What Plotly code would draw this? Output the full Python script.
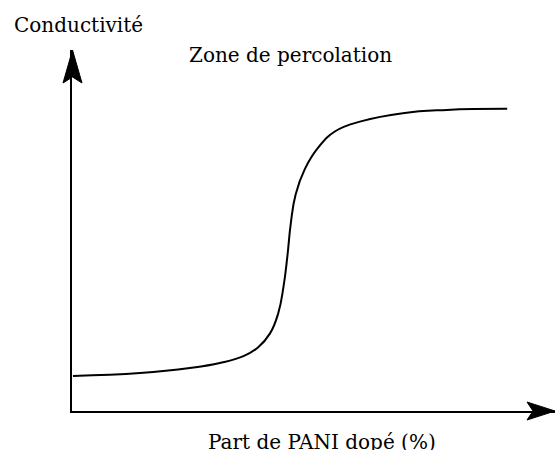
import plotly.graph_objects as go

# Data (arbitrary units: x = % PANI dopé, 0-100 ; y = conductivité, 0-100)
part_pani = [0.2, 14.1, 24.4, 30.6, 35.5, 38.5, 41.0, 42.7, 43.8, 44.6, 45.3,
             46.3, 48.2, 51.0, 54.5, 60.0, 68.5, 77.6, 90.1]
conductivite = [9.7, 10.5, 11.9, 13.3, 15.2, 17.6, 21.5, 27.1, 34.5, 43.0, 52.0,
                60.0, 67.0, 73.0, 77.5, 80.3, 82.5, 83.4, 83.7]

x_label = "Part de PANI dopé (%)"
y_label = "Conductivité"
zone_label = "Zone de percolation"

W, H = 555, 450
L, T, R, B = 72, 50, 555, 411


def px(x):
    return (x - L) / (R - L)


def py(y):
    return (B - y) / (B - T)


FONT = "DejaVu Serif"
FS = 20

fig = go.Figure()
fig.add_trace(go.Scatter(
    x=part_pani, y=conductivite, mode="lines",
    line=dict(color="black", width=2, shape="spline", smoothing=1.3),
    hoverinfo="skip", showlegend=False,
))

shapes = [
    # y-axis arrowhead
    dict(type="path", xref="paper", yref="paper",
         path=f"M{px(72.5)},{py(50)} L{px(82)},{py(83)} L{px(72.5)},{py(77)} L{px(63)},{py(83)} Z",
         fillcolor="black", line=dict(color="black", width=1)),
    # x-axis arrowhead
    dict(type="path", xref="paper", yref="paper",
         path=f"M{px(555)},{py(411)} L{px(527)},{py(420)} L{px(533)},{py(411)} L{px(527)},{py(402)} Z",
         fillcolor="black", line=dict(color="black", width=1)),
]

annotations = [
    dict(text=y_label, xref="paper", yref="paper", x=px(12), y=py(25),
         xanchor="left", yanchor="middle", showarrow=False,
         font=dict(family=FONT, size=FS, color="black")),
    dict(text=zone_label, xref="paper", yref="paper", x=px(290), y=py(55),
         xanchor="center", yanchor="middle", showarrow=False,
         font=dict(family=FONT, size=FS, color="black")),
    dict(text=x_label, xref="paper", yref="paper", x=px(322), y=py(428),
         xanchor="center", yanchor="top", showarrow=False,
         font=dict(family=FONT, size=FS, color="black")),
]

fig.update_layout(
    width=W, height=H,
    margin=dict(l=L, r=W - R, t=T, b=H - B, pad=0),
    paper_bgcolor="white", plot_bgcolor="white",
    xaxis=dict(range=[0, 100], showgrid=False, zeroline=False, showticklabels=False,
               ticks="", showline=True, linecolor="black", linewidth=2, fixedrange=True),
    yaxis=dict(range=[0, 100], showgrid=False, zeroline=False, showticklabels=False,
               ticks="", showline=True, linecolor="black", linewidth=2, fixedrange=True),
    shapes=shapes,
    annotations=annotations,
    showlegend=False,
)

fig.write_html(
    "out.html",
    config={"displayModeBar": False, "staticPlot": True},
    post_script="document.body.style.margin='0';document.body.style.overflow='hidden';",
)
